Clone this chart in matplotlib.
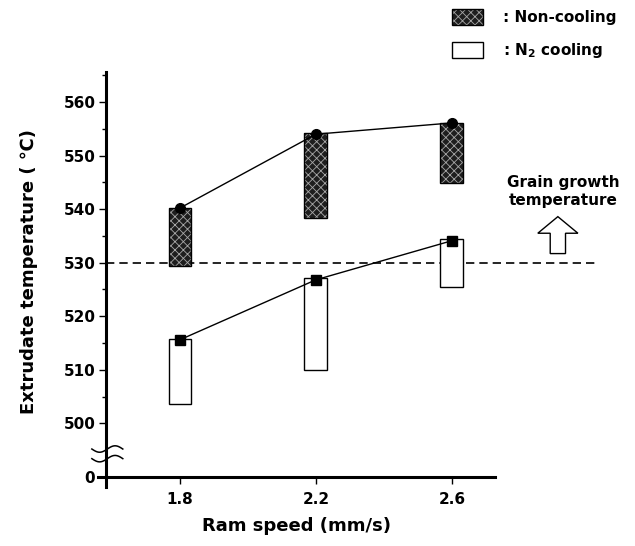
import numpy as np
import matplotlib
matplotlib.use("Agg")
import matplotlib.pyplot as plt
import matplotlib.patches as mpatches
from matplotlib.legend_handler import HandlerTuple

plt.rcParams["font.family"] = ["DejaVu Sans"]
plt.rcParams["font.weight"] = "bold"
plt.rcParams["hatch.linewidth"] = 0.6

# data
ram_speed = [1.8, 2.2, 2.6]
noncool_low = [529.3, 538.4, 544.9]
noncool_high = [540.3, 554.2, 556.0]
noncool_mean = [540.2, 554.0, 556.1]
n2_low = [503.6, 510.0, 525.5]
n2_high = [515.8, 527.2, 534.4]
n2_mean = [515.6, 526.8, 534.1]
grain_growth_T = 530
y_ticks = [500, 510, 520, 530, 540, 550, 560]
y_break = 490  # where the "0" of the broken axis sits

DARK = "#1e1e1e"
HATCH = "#a8a8a8"
bar_w = 0.067

fig = plt.figure(figsize=(6.35, 5.46), dpi=100)
ax = fig.add_axes([0.1543, 0.108, 0.6252, 0.760])
ax.set_xlim(1.559, 2.727)
ax.set_ylim(488.1, 565.6)

# non-cooling ranges: dark stipple boxes
h_nc = np.array(noncool_high) - np.array(noncool_low)
ax.bar(ram_speed, h_nc, bottom=noncool_low, width=bar_w, color=DARK, lw=0, zorder=2)
ax.bar(ram_speed, h_nc, bottom=noncool_low, width=bar_w, fill=False, hatch="xxxx",
       edgecolor=HATCH, lw=0, zorder=2.1)
ax.bar(ram_speed, h_nc, bottom=noncool_low, width=bar_w, fill=False,
       edgecolor="black", lw=1.0, zorder=2.2)

# N2 cooling ranges: open boxes
h_n2 = np.array(n2_high) - np.array(n2_low)
ax.bar(ram_speed, h_n2, bottom=n2_low, width=bar_w, facecolor="white",
       edgecolor="black", lw=1.0, zorder=2)

ax.plot(ram_speed, noncool_mean, "-", color="black", lw=1.0, marker="o", ms=7, zorder=3)
ax.plot(ram_speed, n2_mean, "-", color="black", lw=1.0, marker="s", ms=7, zorder=3)

# grain growth threshold
ax.plot([1.584, 3.02], [grain_growth_T, grain_growth_T], color="black", lw=1.2,
        dashes=(5, 3), clip_on=False, zorder=1)
arrow = mpatches.FancyArrow(2.912, 531.7, 0, 6.9, width=0.045, head_width=0.118,
                            head_length=3.1, length_includes_head=True,
                            facecolor="white", edgecolor="black", lw=1.0, clip_on=False)
ax.add_patch(arrow)
ax.text(2.927, 540.2, "Grain growth\ntemperature", ha="center", va="bottom",
        fontsize=11, fontweight="bold", linespacing=1.25, clip_on=False)

# axes styling, broken y axis
for s in ["top", "right"]:
    ax.spines[s].set_visible(False)
ax.spines["left"].set_position(("data", 1.584))
ax.spines["bottom"].set_position(("data", y_break))
ax.spines["left"].set_linewidth(2.2)
ax.spines["bottom"].set_linewidth(2.2)

ax.set_xticks(ram_speed)
ax.set_xticklabels([f"{v:.1f}" for v in ram_speed], fontsize=11, fontweight="bold")
ax.set_yticks([y_break] + y_ticks)
ax.set_yticklabels(["0"] + [str(v) for v in y_ticks], fontsize=11, fontweight="bold")
ax.set_yticks([505, 515, 525, 535, 545, 555, 565], minor=True)
ax.tick_params(axis="both", which="major", direction="out", length=5, width=1, pad=3)
ax.tick_params(axis="y", which="minor", direction="out", length=3, width=1)
ax.tick_params(axis="x", pad=6)

# break marks on the y axis
t = np.linspace(1.541, 1.632, 60)
wave = 0.6 * np.sin((t - 1.541) / (1.632 - 1.541) * 2 * np.pi + np.pi)
for yb in [495.2, 493.4]:
    ax.plot(t, yb + wave, color="black", lw=1.1, clip_on=False, zorder=4)

ax.set_ylabel("Extrudate temperature ( \u2103)", fontsize=13, fontweight="bold")
ax.set_xlabel("Ram speed (mm/s)", fontsize=13, fontweight="bold", labelpad=7)
ax.yaxis.set_label_coords(-0.152, 0.52)

# legend
p_dark = mpatches.Patch(facecolor=DARK, hatch="xxxx", edgecolor=HATCH, lw=0)
p_edge = mpatches.Patch(fill=False, edgecolor="black", lw=1.0)
p_open = mpatches.Patch(facecolor="white", edgecolor="black", lw=1.0)
fig.legend([(p_dark, p_edge), p_open], [": Non-cooling", ": N$_\\mathbf{2}$ cooling"],
           handler_map={tuple: HandlerTuple(ndivide=1)},
           loc="upper left", bbox_to_anchor=(0.695, 1.003), frameon=False,
           prop={"size": 11, "weight": "bold"}, handlelength=2.0, handleheight=1.25,
           handletextpad=1.35, labelspacing=1.05, borderaxespad=0.3)

fig.savefig("out.png", dpi=100)
